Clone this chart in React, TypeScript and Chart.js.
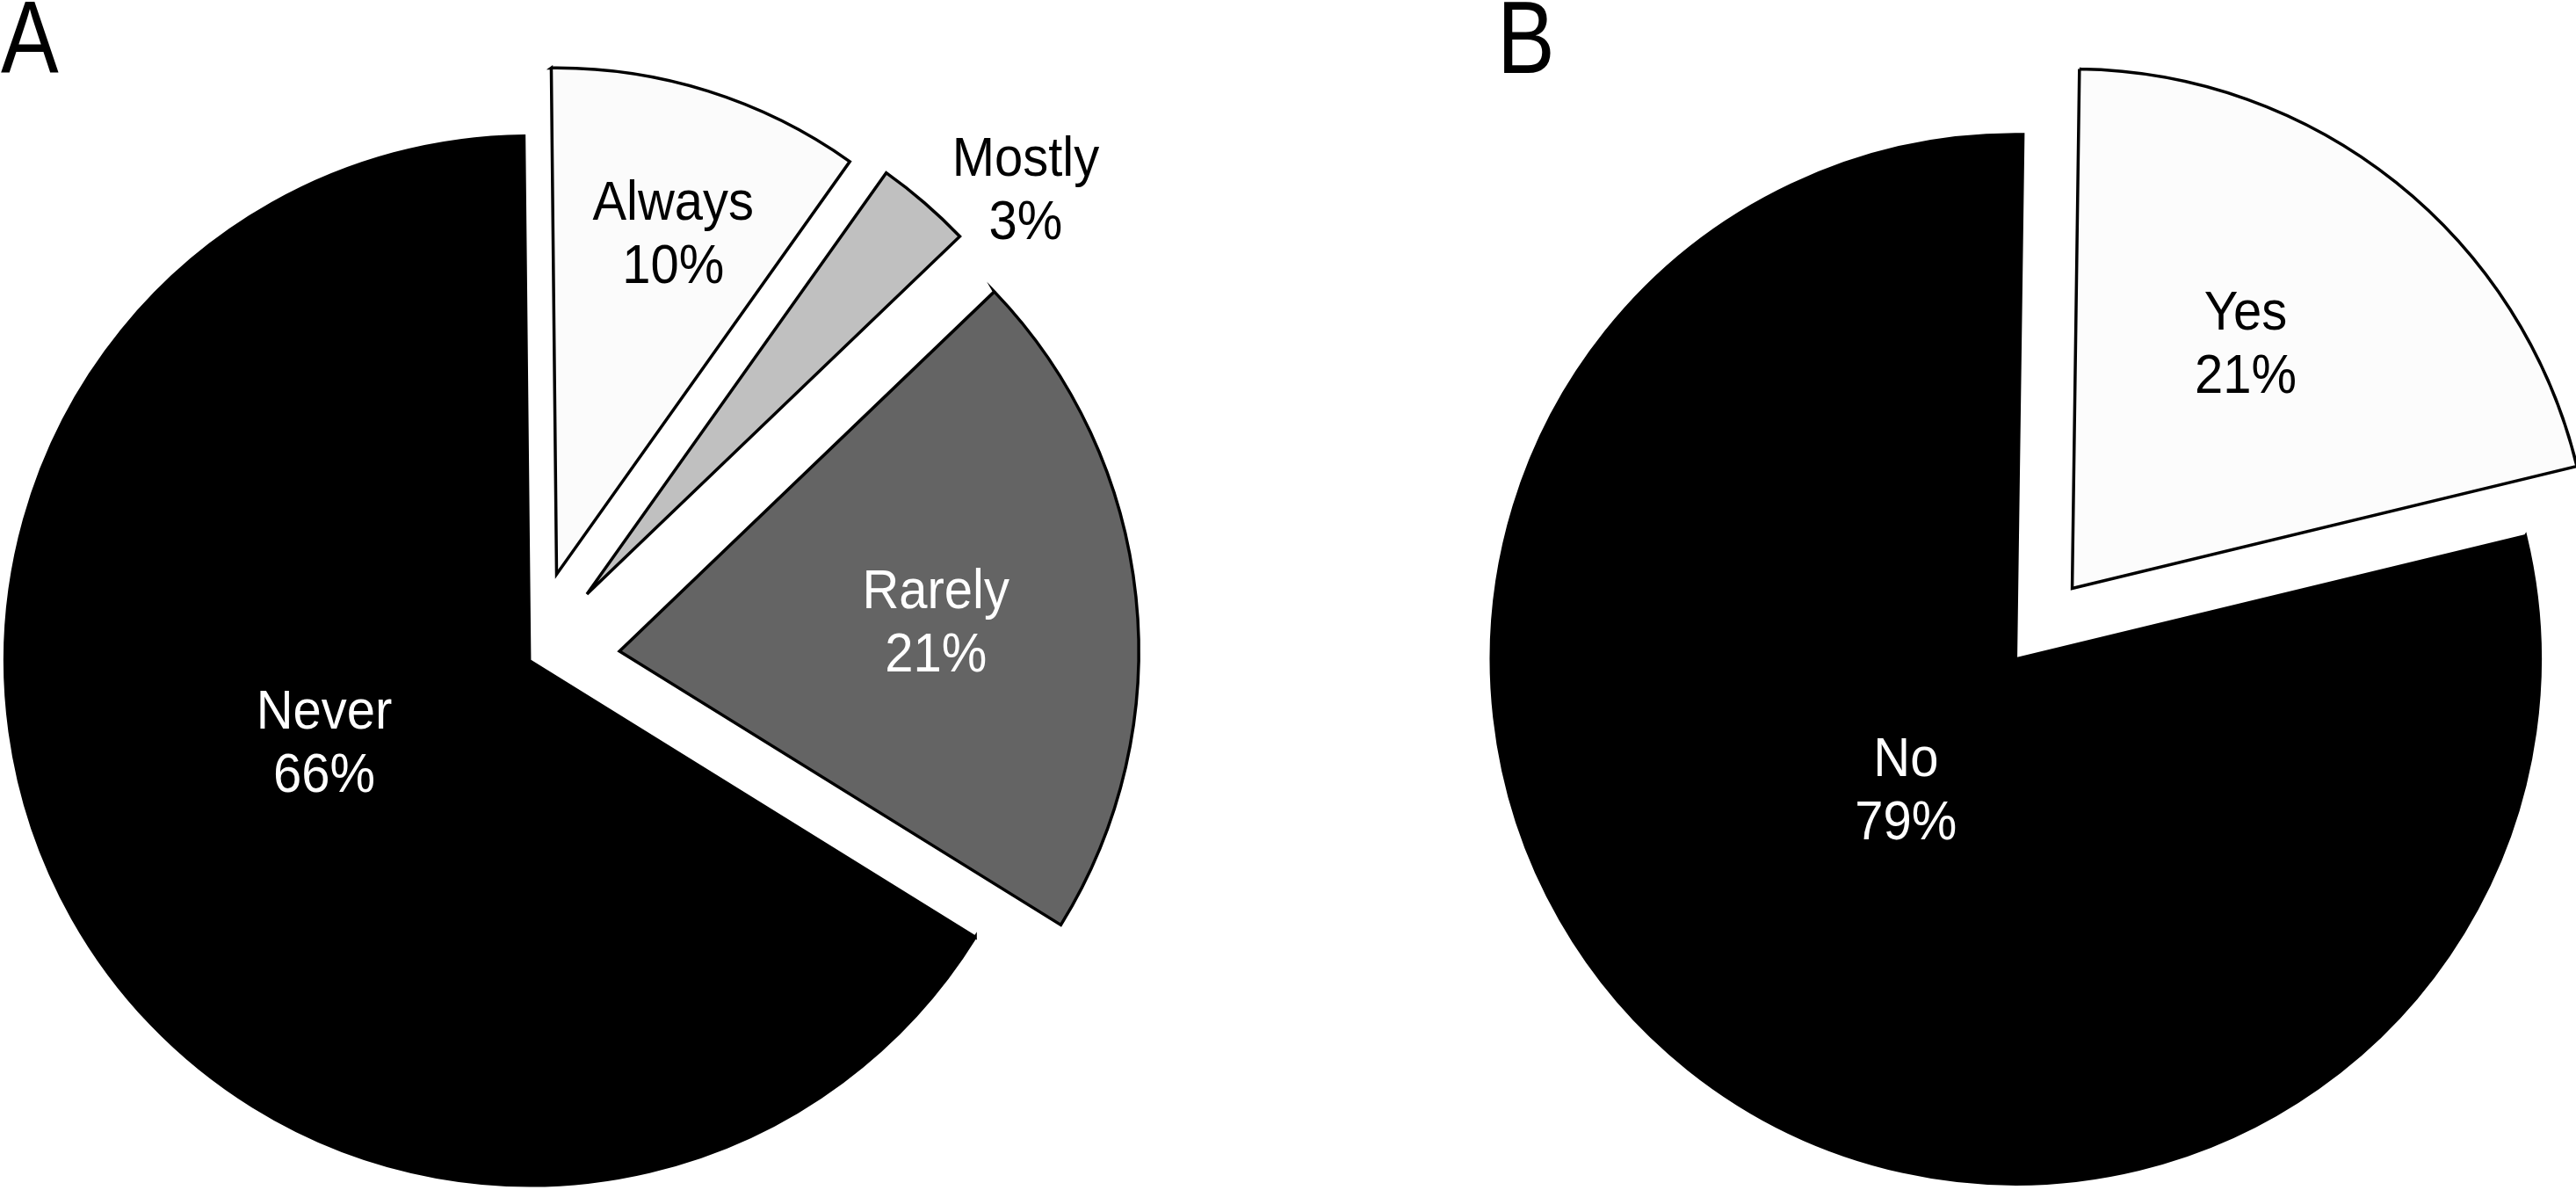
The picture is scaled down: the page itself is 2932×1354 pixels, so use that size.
import React, { useEffect, useRef } from "react";
import { Chart, registerables } from "chart.js";

Chart.register(...registerables);

// ---- Data ----
const categoriesA = ["Always", "Mostly", "Rarely", "Never"];
const valuesA = [10, 3, 21, 66];
const categoriesB = ["Yes", "No"];
const valuesB = [21, 79];
const panelLetters = ["A", "B"];

// ---- Styles ----
const colorsA = ["#fbfbfb", "#c0c0c0", "#646464", "#000000"];
const textColorsA = ["#000000", "#000000", "#ffffff", "#ffffff"];
const explodeA = [103, 100, 103, 0];
const radiusScaleA = [0.965, 0.985, 0.99, 1];
const labelDistA = [0.69, 1.14, 0.606, 0.42];
const labelShiftA = [1.4, 6.4, 0.4, 8.2];

const colorsB = ["#fcfcfc", "#000000"];
const textColorsB = ["#000000", "#ffffff"];
const explodeB = [103, 0];
const radiusScaleB = [0.99, 1];
const labelDistB = [0.575, 0.323];
const labelShiftB = [-3.5, 1.8];

const FONT = '"Liberation Sans", Arial, sans-serif';
const LABEL_SIZE = 63;
const LABEL_CAP = 45;
const LABEL_GAP = 72;
const LABEL_SCALE_X = 0.92;
const RADIUS = 597;
const W = 1466;
const H = 1354;

type PieCfg = {
  labels: string[];
  values: number[];
  colors: string[];
  textColors: string[];
  explode: number[];
  radiusScale: number[];
  labelDist: number[];
  labelShift: number[];
  rotation: number;
  padding: { left: number; right: number; top: number; bottom: number };
};

function makePie(canvas: HTMLCanvasElement, cfg: PieCfg) {
  const total = cfg.values.reduce((a, b) => a + b, 0);
  const explodePlugin = {
    id: "explodeSlices",
    afterDatasetsUpdate(chart: any) {
      const meta = chart.getDatasetMeta(0);
      meta.data.forEach((el: any, i: number) => {
        const mid = (el.startAngle + el.endAngle) / 2;
        const d = cfg.explode[i] || 0;
        el.x += Math.cos(mid) * d;
        el.y += Math.sin(mid) * d;
        el.outerRadius = RADIUS * cfg.radiusScale[i];
      });
    },
  };
  const labelPlugin = {
    id: "sliceLabels",
    afterDatasetsDraw(chart: any) {
      const ctx = chart.ctx as CanvasRenderingContext2D;
      const meta = chart.getDatasetMeta(0);
      meta.data.forEach((el: any, i: number) => {
        const mid = (el.startAngle + el.endAngle) / 2;
        const th = mid + (cfg.labelShift[i] * Math.PI) / 180;
        const d = cfg.labelDist[i] * RADIUS;
        const px = el.x + Math.cos(th) * d;
        const py = el.y + Math.sin(th) * d;
        const pct = Math.round((cfg.values[i] / total) * 100) + "%";
        const top = py - (LABEL_CAP + LABEL_GAP) / 2;
        ctx.save();
        ctx.font = `${LABEL_SIZE}px ${FONT}`;
        ctx.fillStyle = cfg.textColors[i];
        ctx.textAlign = "center";
        ctx.textBaseline = "alphabetic";
        ctx.translate(px, 0);
        ctx.scale(LABEL_SCALE_X, 1);
        ctx.fillText(cfg.labels[i], 0, top + LABEL_CAP);
        ctx.fillText(pct, 0, top + LABEL_CAP + LABEL_GAP);
        ctx.restore();
      });
    },
  };
  return new Chart(canvas, {
    type: "pie",
    data: {
      labels: cfg.labels,
      datasets: [
        {
          data: cfg.values,
          backgroundColor: cfg.colors,
          borderColor: "#000000",
          borderWidth: 3.5,
          borderJoinStyle: "miter",
          clip: false,
        } as any,
      ],
    },
    options: {
      animation: false,
      responsive: false,
      maintainAspectRatio: false,
      devicePixelRatio: 1,
      events: [],
      rotation: cfg.rotation,
      radius: RADIUS,
      layout: { padding: cfg.padding },
      plugins: {
        legend: { display: false },
        tooltip: { enabled: false },
      },
    } as any,
    plugins: [explodePlugin, labelPlugin],
  });
}

export default function App() {
  const refA = useRef<HTMLCanvasElement>(null);
  const refB = useRef<HTMLCanvasElement>(null);

  useEffect(() => {
    const a = makePie(refA.current!, {
      labels: categoriesA,
      values: valuesA,
      colors: colorsA,
      textColors: textColorsA,
      explode: explodeA,
      radiusScale: radiusScaleA,
      labelDist: labelDistA,
      labelShift: labelShiftA,
      rotation: -0.6,
      padding: { left: 0, right: 260.6, top: 149.4, bottom: 0 },
    });
    const b = makePie(refB.current!, {
      labels: categoriesB,
      values: valuesB,
      colors: colorsB,
      textColors: textColorsB,
      explode: explodeB,
      radiusScale: radiusScaleB,
      labelDist: labelDistB,
      labelShift: labelShiftB,
      rotation: 0.8,
      padding: { left: 190.6, right: 0, top: 146, bottom: 0 },
    });
    return () => {
      a.destroy();
      b.destroy();
    };
  }, []);

  const letterStyle: React.CSSProperties = {
    position: "absolute",
    top: -15,
    fontFamily: FONT,
    fontSize: 116,
    lineHeight: "116px",
    color: "#000",
    transform: "scaleX(0.85)",
    transformOrigin: "left top",
    margin: 0,
    whiteSpace: "nowrap",
  };

  return (
    <div
      style={{
        position: "absolute",
        left: 0,
        top: 0,
        width: 2932,
        height: 1354,
        background: "#ffffff",
        overflow: "hidden",
      }}
    >
      <canvas
        ref={refA}
        width={W}
        height={H}
        style={{ position: "absolute", left: 0, top: 0, width: W, height: H }}
      />
      <canvas
        ref={refB}
        width={W}
        height={H}
        style={{ position: "absolute", left: W, top: 0, width: W, height: H }}
      />
      <div style={{ ...letterStyle, left: 1 }}>{panelLetters[0]}</div>
      <div style={{ ...letterStyle, left: 1704 }}>{panelLetters[1]}</div>
    </div>
  );
}
